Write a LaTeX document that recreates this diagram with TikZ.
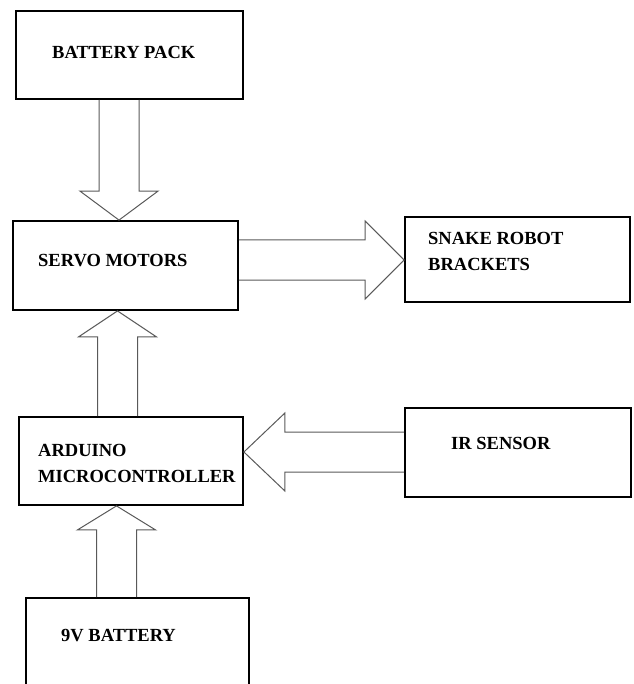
\documentclass[tikz,border=0pt]{standalone}
\usepackage{fontspec}
\setmainfont{Liberation Serif}
\usetikzlibrary{calc,positioning}
\tikzset{
  blockbox/.style={draw,line width=1.8pt,minimum width=225pt,minimum height=88pt,inner sep=0pt},
  blocktxt/.style={anchor=west,inner sep=0pt,align=left,font=\fontsize{18.5}{26}\selectfont\bfseries},
  fatline/.style={draw=black!65,line width=1pt,line join=miter}
}
% hollow block arrow: [head length]{tail}{tip}
\newcommand{\fatarrow}[3][29pt]{%
  \coordinate (fh) at ($(#3)!#1!(#2)$);
  \draw[fatline] ($(#2)!20pt!90:(#3)$) -- ($(fh)!20pt!90:(#3)$) -- ($(fh)!39pt!90:(#3)$)
    -- (#3) -- ($(fh)!39pt!-90:(#3)$) -- ($(fh)!20pt!-90:(#3)$) -- ($(#2)!20pt!-90:(#3)$);
}

\begin{document}
\begin{tikzpicture}[x=1pt,y=-1pt]
  \useasboundingbox (0,0) rectangle (633,684);
  \clip (0,0) rectangle (633,684);

  % boxes
  \node[blockbox,minimum width=227pt] (bat) at (129.5,55) {};
  \node[blockbox,minimum height=89pt] (servo) at (125.5,265.5) {};
  \node[blockbox,minimum height=85pt] (snake) at (517.5,259.5) {};
  \node[blockbox,minimum width=224pt] (ard) at (131,461) {};
  \node[blockbox,minimum width=226pt,minimum height=89pt] (ir) at (518,452.5) {};
  \node[blockbox,minimum width=223pt,minimum height=102pt] (nine) at (137.5,649) {};

  % texts
  \node[blocktxt] (bat-txt) at (52,52) {BATTERY PACK};
  \node[blocktxt] (servo-txt) at (38,261) {SERVO MOTORS};
  \node[blocktxt] (snake-txt) at (428,251.5) {SNAKE ROBOT\\BRACKETS};
  \node[blocktxt] (ard-txt) at (38,463.5) {ARDUINO\\MICROCONTROLLER};
  \node[blocktxt] (ir-txt) at (451,443) {IR SENSOR};
  \node[blocktxt] (nine-txt) at (61,636) {9V BATTERY};

  % arrows
  \coordinate (colA) at (119,0);
  \coordinate (colB) at (117.5,0);
  \coordinate (colC) at (116.5,0);
  \coordinate (rowA) at (0,260);
  \coordinate (rowB) at (0,452);
  \fatarrow[29pt]{colA |- bat.south}{colA |- servo.north}
  \fatarrow[39pt]{servo.east |- rowA}{snake.west |- rowA}
  \fatarrow[26pt]{colB |- ard.north}{colB |- servo.south}
  \fatarrow[41pt]{ir.west |- rowB}{ard.east |- rowB}
  \fatarrow[24pt]{colC |- nine.north}{colC |- ard.south}
\end{tikzpicture}
\end{document}
